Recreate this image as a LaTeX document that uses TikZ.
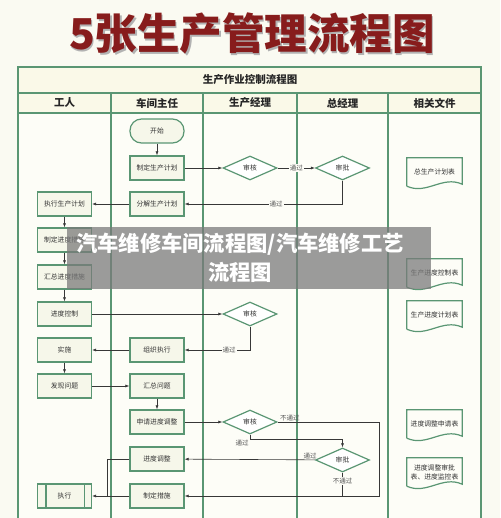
\documentclass[tikz,border=0pt]{standalone}
\usepackage{fontspec}
\setmainfont{Noto Sans CJK SC}
\usetikzlibrary{shapes.geometric,arrows.meta}
\definecolor{pagebg}{RGB}{250,250,242}
\definecolor{bodyfill}{RGB}{253,253,247}
\definecolor{headfill}{RGB}{250,249,232}
\definecolor{frame}{RGB}{90,150,115}
\definecolor{boxfill}{RGB}{246,247,234}
\definecolor{titlered}{RGB}{135,28,28}
\definecolor{lineg}{RGB}{55,55,55}
\definecolor{labg}{RGB}{85,85,85}
\tikzset{
  box/.style={rectangle,draw=frame,line width=1.2pt,fill=boxfill,minimum width=54pt,minimum height=24pt,inner sep=1pt,text=black!80,font=\fontsize{6.8}{8}\selectfont},
  startbox/.style={box,rounded corners=11.5pt},
  judge/.style={diamond,draw=frame,line width=1.2pt,fill=white,minimum width=54pt,minimum height=24pt,inner sep=0pt,text=black!80,font=\fontsize{6.8}{8}\selectfont},
  doc/.style={rectangle,minimum width=55pt,minimum height=28pt,inner sep=1pt,align=center,text=black!80,font=\fontsize{6.8}{9}\selectfont},
  head/.style={font=\bfseries\fontsize{10.5}{12}\selectfont,text=black!85},
  lab/.style={font=\fontsize{6.5}{7}\selectfont,text=labg,inner sep=1pt},
  onl/.style={lab,fill=bodyfill},
  conn/.style={draw=lineg,line width=0.6pt},
}
\newcommand{\docframe}[1]{\draw[frame,line width=1.2pt] (#1.south west) -- (#1.north west) -- (#1.north east) -- ([yshift=2pt]#1.south east) .. controls +(-20pt,9pt) and +(20pt,-9pt) .. (#1.south west);}

\begin{document}
\begin{tikzpicture}[x=1pt,y=-1pt,>={Latex[length=4pt,width=3pt]}]
\useasboundingbox[fill=pagebg] (0,0) rectangle (500,518);
% title with shadow
\path (253.5,35) node[font=\bfseries\fontsize{42.5}{42}\selectfont,text=black!30] {5张生产管理流程图};
\path (252,33) node[font=\bfseries\fontsize{42.5}{42}\selectfont,text=titlered] (T) {5张生产管理流程图};

% table
\fill[bodyfill] (18,67) rectangle (481,522);
\fill[headfill] (18,67) rectangle (481,113);
\draw[frame,line width=1.5pt] (18,522) -- (18,67) -- (481,67) -- (481,522);
\draw[frame,line width=1.2pt] (18,93) -- (481,93) (18,113) -- (481,113);
\foreach \x in {111,203,297,388}
  \draw[frame,line width=1.2pt] (\x,93) -- (\x,522);
\path (250,80) node[head] (H) {生产作业控制流程图};
\foreach \x/\t in {64.5/工人,157/车间主任,250/生产经理,342.5/总经理,434.5/相关文件}
  \path (\x,103) node[head] {\t};

% plan
\path (157,131) node[startbox] (KS) {开始};
\path (157,168) node[box] (ZD) {制定生产计划};
\path (250,168) node[judge] (SH1) {审核};
\path (342.5,168) node[judge] (SP1) {审批};
\path (157,204) node[box] (FJ) {分解生产计划};
\path (64.5,204) node[box] (ZX) {执行生产计划};
\draw[conn,->] (KS) -- (ZD);
\draw[conn,->] (ZD) -- (SH1);
\draw[conn,->] (SH1) -- node[onl]{通过} (SP1);
\draw[conn,->] (SP1) |- node[onl,pos=0.71]{通过} (FJ);
\draw[conn,->] (FJ) -- (ZX);

% control
\path (64.5,240) node[box] (ZJ) {制定进度措施};
\path (64.5,277) node[box] (HZ) {汇总进度措施};
\path (64.5,314) node[box] (KZ) {进度控制};
\path (250,314) node[judge] (SH2) {审核};
\path (157,350) node[box] (ZZ) {组织执行};
\path (64.5,350) node[box] (SS) {实施};
\draw[conn,->] (ZX) -- (ZJ);
\draw[conn,->] (ZJ) -- (HZ);
\draw[conn,->] (HZ) -- (KZ);
\draw[conn,->] (KZ) -- (SH2);
\draw[conn,->] (SH2) |- node[onl,pos=0.66]{通过} (ZZ);
\draw[conn,->] (ZZ) -- (SS);

% adjust
\path (64.5,386) node[box] (FX) {发现问题};
\path (157,386) node[box] (HW) {汇总问题};
\path (157,422) node[box] (SQ) {申请进度调整};
\path (250,422) node[judge] (SH3) {审核};
\path (342.5,460) node[judge] (SP2) {审批};
\path (157,459) node[box] (TZ) {进度调整};
\path (157,496) node[box] (CS) {制定措施};
\path (64.5,496) node[box] (ZX2) {执行};
\draw[frame,line width=1.2pt] ([xshift=9pt]ZX2.north west) -- ([xshift=9pt]ZX2.south west)
  ([xshift=-8pt]ZX2.north east) -- ([xshift=-8pt]ZX2.south east);
\coordinate (R1) at (379,422);
\coordinate (R2) at (342.5,439);
\coordinate (R3) at (342.5,496);
\coordinate (R4) at (107,496);
\draw[conn,->] (SS) -- (FX);
\draw[conn,->] (FX) -- (HW);
\draw[conn,->] (HW) -- (SQ);
\draw[conn,->] (SQ) -- (SH3);
\draw[conn,->] (SH3.east) -- node[lab,above,pos=0.12]{不通过} (R1) |- (CS);
\draw[conn,->] (SH3) |- node[lab,below left,pos=0.5]{通过} (R2) -- (SP2);
\draw[conn,->] (SP2) -- node[lab,above,pos=0.04]{通过} (TZ);
\draw[conn] (SP2) -- node[onl,pos=0.35]{不通过} (R3);
\draw[conn] (TZ) -| (R4);
\draw[conn,->] (CS) -- (ZX2);

% files
\path (434.5,172) node[doc] (D1) {总生产计划表};
\path (434.5,273) node[doc] (D2) {生产进度控制表};
\path (434.5,315) node[doc] (D3) {生产进度计划表};
\path (434.5,424) node[doc] (D4) {进度调整申请表};
\path (434.5,472) node[doc] (D5) {进度调整审批\\表、进度监控表};
\foreach \d in {D1,D2,D3,D4,D5} {\docframe{\d}}

% overlay
\fill[black!52,opacity=0.74] (67,227) rectangle (431,289);
\path (240,257.5) node[font=\bfseries\fontsize{21.3}{29}\selectfont,text=white,align=center] (WM) {汽车维修车间流程图/汽车维修工艺\\流程图};
\end{tikzpicture}
\end{document}
